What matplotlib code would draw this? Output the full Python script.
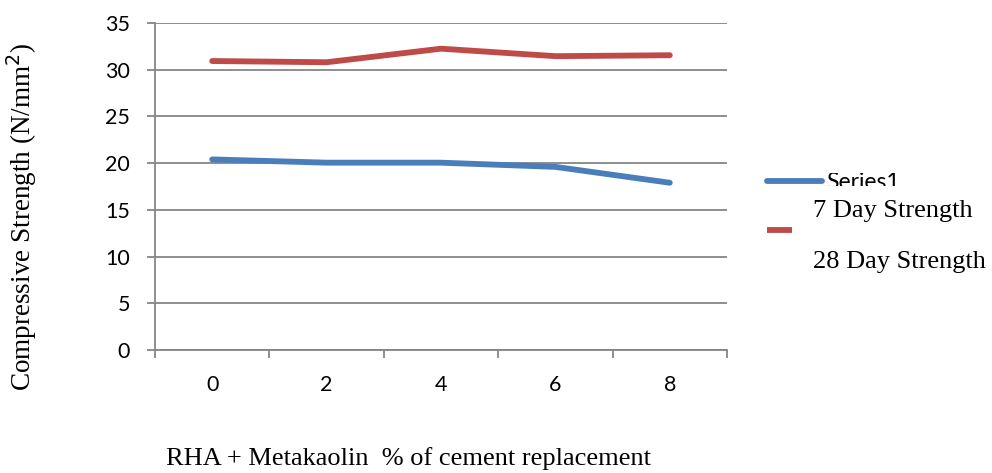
import matplotlib

matplotlib.use("Agg")
import matplotlib.pyplot as plt
from matplotlib.lines import Line2D
from matplotlib.transforms import Bbox

# replacement level (% of cement) and compressive strengths (N/mm2)
replacement = [0, 2, 4, 6, 8]
strength_7day = [20.4, 20.05, 20.05, 19.6, 17.9]
strength_28day = [30.93, 30.8, 32.25, 31.45, 31.55]
y_ticks = [0, 5, 10, 15, 20, 25, 30, 35]

blue = "#4A7EBB"
red = "#BE4B48"
grid_c = "#868686"
sans = ["Lato", "DejaVu Sans"]
serif = ["Liberation Serif", "DejaVu Serif"]

W, H = 992, 473
fig = plt.figure(figsize=(W / 100, H / 100), dpi=100)
ax = fig.add_axes([155 / W, 1 - 350 / H, (727 - 155) / W, (350 - 23) / H])

ax.plot(replacement, strength_7day, color=blue, linewidth=4.2,
        solid_capstyle="round", solid_joinstyle="round", zorder=3)
ax.plot(replacement, strength_28day, color=red, linewidth=4.2,
        solid_capstyle="round", solid_joinstyle="round", zorder=3)

ax.set_xlim(-1, 9)
ax.set_ylim(0, 35)
ax.set_yticks(y_ticks)
ax.set_xticks(replacement)
ax.set_xticks([-1, 1, 3, 5, 7, 9], minor=True)
ax.grid(True, axis="y", color=grid_c, linewidth=1.3, zorder=0)

for s in ("top", "right"):
    ax.spines[s].set_visible(False)
for s in ("left", "bottom"):
    ax.spines[s].set_color(grid_c)
    ax.spines[s].set_linewidth(1.3)
ax.tick_params(axis="y", length=6, width=1.3, color=grid_c, pad=12)
ax.tick_params(axis="x", which="major", length=0, pad=18)
ax.tick_params(axis="x", which="minor", length=6, width=1.3, color=grid_c)
for lab in ax.get_xticklabels() + ax.get_yticklabels():
    lab.set_fontfamily(sans)
    lab.set_fontsize(15.5)
    lab.set_color("#000000")

fig.text(22 / W, 1 - 217 / H, "Compressive Strength (N/mm$^2$)", rotation=90,
         ha="center", va="center", fontsize=19.5, family=serif)
fig.text(408 / W, 1 - 459 / H, "RHA + Metakaolin  % of cement replacement",
         ha="center", va="center", fontsize=19, family=serif)

# legend drawn by hand: entries do not line up with their labels,
# and the first label is cut off top and bottom as in the source
fig.add_artist(Line2D([767 / W, 822 / W], [1 - 181 / H] * 2, color=blue,
                      linewidth=4.2, solid_capstyle="round"))
fig.add_artist(Line2D([767 / W, 792 / W], [1 - 230 / H] * 2, color=red,
                      linewidth=4.2, solid_capstyle="butt"))
s1 = fig.text(826 / W, 1 - 182 / H, "Series1", ha="left", va="center",
              fontsize=16.5, family=sans)
s1.set_clip_box(Bbox([[0, H - 186], [W, H - 173]]))
s1.set_clip_on(True)
fig.text(813 / W, 1 - 211 / H, "7 Day Strength", ha="left", va="center",
         fontsize=19, family=serif)
fig.text(813 / W, 1 - 262 / H, "28 Day Strength", ha="left", va="center",
         fontsize=19, family=serif)

fig.savefig("out.png", dpi=100)
